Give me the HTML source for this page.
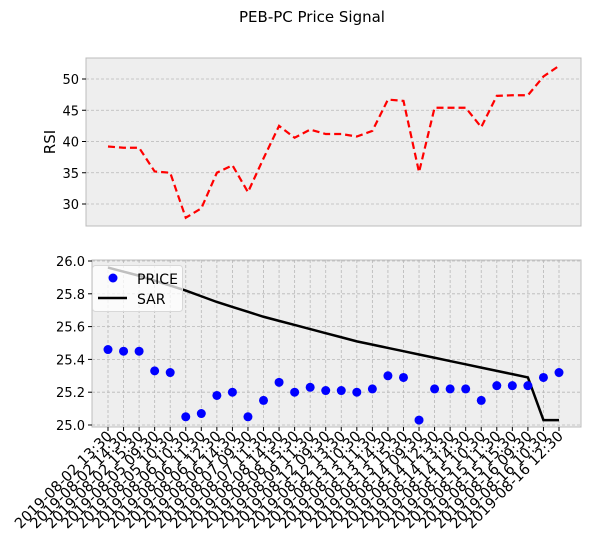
<!DOCTYPE html>
<html><head><meta charset="utf-8"><style>
body{margin:0;background:#fff;}
svg{display:block;font-family:"DejaVu Sans","Liberation Sans",sans-serif;}
</style></head><body>
<svg id="chart" width="591" height="540" xmlns="http://www.w3.org/2000/svg">
<text x="312" y="22" text-anchor="middle" font-size="15">PEB-PC Price Signal</text>
<g id="topPanel"></g>
<g id="botPanel"></g>
</svg>
<script>
const labels=["2019-08-02 13:30","2019-08-02 14:30","2019-08-02 15:30","2019-08-05 09:30","2019-08-05 10:30","2019-08-06 10:30","2019-08-06 11:30","2019-08-06 12:30","2019-08-06 14:30","2019-08-07 09:30","2019-08-07 11:30","2019-08-08 14:30","2019-08-08 15:30","2019-08-09 11:30","2019-08-12 09:30","2019-08-12 13:30","2019-08-13 10:30","2019-08-13 11:30","2019-08-13 14:30","2019-08-13 15:30","2019-08-14 09:30","2019-08-14 12:30","2019-08-14 13:30","2019-08-14 14:30","2019-08-15 10:30","2019-08-15 11:30","2019-08-15 15:30","2019-08-16 09:30","2019-08-16 10:30","2019-08-16 12:30"];
const rsi=[39.2,39.0,39.0,35.2,35.0,27.8,29.3,35.0,36.2,31.9,37.3,42.5,40.6,41.9,41.2,41.2,40.8,41.7,46.7,46.5,35.1,45.4,45.4,45.4,42.3,47.3,47.4,47.4,50.4,52.1];
const price=[25.46,25.45,25.45,25.33,25.32,25.05,25.07,25.18,25.20,25.05,25.15,25.26,25.20,25.23,25.21,25.21,25.20,25.22,25.30,25.29,25.03,25.22,25.22,25.22,25.15,25.24,25.24,25.24,25.29,25.32];
const sar=[25.96,25.935,25.91,25.88,25.85,25.82,25.785,25.75,25.72,25.69,25.66,25.635,25.61,25.585,25.56,25.535,25.51,25.49,25.47,25.45,25.43,25.41,25.39,25.37,25.35,25.33,25.31,25.29,25.03,25.03];
const rsiTicks=[30,35,40,45,50];
const priceTicks=[25.0,25.2,25.4,25.6,25.8,26.0];
const NS="http://www.w3.org/2000/svg";
function mk(p,t,a,txt){const e=document.createElementNS(NS,t);for(const k in a)e.setAttribute(k,a[k]);if(txt!==undefined)e.textContent=txt;p.appendChild(e);return e;}
const x=i=>108+i*(559-108)/(labels.length-1);
const yT=v=>204-(v-30)*6.25;
const yB=v=>425-(v-25.0)*164/1.0;
const topG=document.getElementById('topPanel'),botG=document.getElementById('botPanel');
let r=mk(topG,'rect',{x:86,y:58,width:495,height:168,fill:'#eeeeee',stroke:'#bcbcbc'});


rsiTicks.forEach(v=>{
 let g=mk(topG,'line',{x1:86,x2:581,y1:yT(v),y2:yT(v),stroke:'#b8b8b8','stroke-width':0.8,'stroke-dasharray':'3,2'});
 
 
 mk(topG,'line',{x1:82,x2:86,y1:yT(v),y2:yT(v),stroke:'#000'});
 let t=mk(topG,'text',{x:79,y:yT(v)+5,'text-anchor':'end','font-size':13},String(v));
 
 
});
let yl=mk(topG,'text',{x:0,y:0,transform:'translate(55,142) rotate(-90)','text-anchor':'middle','font-size':15},'RSI');


let rl=mk(topG,'polyline',{points:rsi.map((v,i)=>x(i)+','+yT(v)).join(' '),fill:'none',stroke:'#ff0000','stroke-width':2.2,'stroke-dasharray':'7,4'});


r=mk(botG,'rect',{x:92,y:260,width:489,height:167,fill:'#eeeeee',stroke:'#bcbcbc'});


priceTicks.forEach(v=>{
 let g=mk(botG,'line',{x1:92,x2:581,y1:yB(v),y2:yB(v),stroke:'#b8b8b8','stroke-width':0.8,'stroke-dasharray':'3,2'});
 
 
 mk(botG,'line',{x1:88,x2:92,y1:yB(v),y2:yB(v),stroke:'#000'});
 let t=mk(botG,'text',{x:85,y:yB(v)+5,'text-anchor':'end','font-size':13},v.toFixed(1));
 
 
});
labels.forEach((l,i)=>{
 let g=mk(botG,'line',{x1:x(i),x2:x(i),y1:260,y2:427,stroke:'#b8b8b8','stroke-width':0.8,'stroke-dasharray':'3,2'});
 
 
 mk(botG,'line',{x1:x(i),x2:x(i),y1:427,y2:431,stroke:'#000'});
 let t=mk(botG,'text',{x:0,y:0,transform:`translate(${x(i)+5},${437}) rotate(-45)`,'text-anchor':'end','font-size':14.5},l);
 
 
});
let sl=mk(botG,'polyline',{points:sar.map((v,i)=>x(i)+','+yB(v)).join(' '),fill:'none',stroke:'#000','stroke-width':2.5});


price.forEach((v,i)=>{
 let c=mk(botG,'circle',{cx:x(i),cy:yB(v),r:4.5,fill:'#0000ff'});
 
 
});
let lg=mk(botG,'g',{});


mk(lg,'rect',{x:92.5,y:265.5,width:90,height:46,rx:3,fill:'#ffffff','fill-opacity':0.75,stroke:'#d8d8d8'});
mk(lg,'circle',{cx:113,cy:278,r:4.5,fill:'#0000ff'});
let t1=mk(lg,'text',{x:137,y:284,'font-size':14},'PRICE');


mk(lg,'line',{x1:98,x2:127,y1:298,y2:298,stroke:'#000','stroke-width':2.5});
let t2=mk(lg,'text',{x:137,y:304,'font-size':14},'SAR');


</script>
</body></html>
